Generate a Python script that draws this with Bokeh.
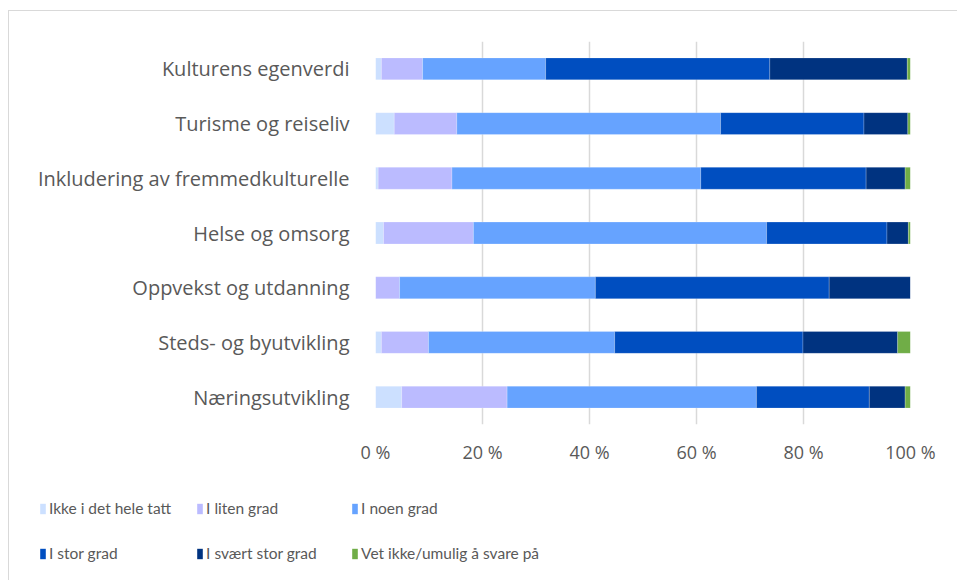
from bokeh.plotting import figure
from bokeh.layouts import column
from bokeh.models import (ColumnDataSource, FactorRange, Range1d, FixedTicker,
                          Legend, LegendItem)
from bokeh.embed import file_html
from bokeh.resources import INLINE

categories = ["Kulturens egenverdi", "Turisme og reiseliv",
              "Inkludering av fremmedkulturelle", "Helse og omsorg",
              "Oppvekst og utdanning", "Steds- og byutvikling", "Næringsutvikling"]
ikke = [1.1, 3.5, 0.5, 1.5, 0.0, 1.1, 4.9]
liten = [7.7, 11.7, 13.8, 16.8, 4.5, 8.8, 19.7]
noen = [23.0, 49.3, 46.5, 54.8, 36.6, 34.8, 46.6]
stor = [41.9, 26.8, 30.9, 22.5, 43.7, 35.2, 21.1]
svaert = [25.7, 8.2, 7.3, 4.0, 15.2, 17.7, 6.7]
vet = [0.6, 0.5, 1.0, 0.4, 0.0, 2.4, 1.0]

series_labels = ["Ikke i det hele tatt", "I liten grad", "I noen grad",
                 "I stor grad", "I svært stor grad", "Vet ikke/umulig å svare på"]
series_keys = ["ikke", "liten", "noen", "stor", "svaert", "vet"]
colors = ["#CCE0FF", "#BBBBFF", "#66A3FF", "#004EC0", "#003380", "#70AD47"]

tick_values = [0, 20, 40, 60, 80, 100]
tick_labels = ["0 %", "20 %", "40 %", "60 %", "80 %", "100 %"]

source = ColumnDataSource(dict(cat=categories, ikke=ikke, liten=liten, noen=noen,
                               stor=stor, svaert=svaert, vet=vet))

# ---- main chart ----
p = figure(width=949, height=460, output_backend="svg", toolbar_location=None,
           y_range=FactorRange(*reversed(categories)), x_range=Range1d(0, 100),
           min_border_left=366, min_border_right=48, min_border_top=30,
           min_border_bottom=47)
p.frame_align = False
p.outline_line_color = None
p.background_fill_color = "white"
p.border_fill_color = "white"

p.hbar_stack(series_keys, y="cat", height=0.4, color=colors,
             line_color="white", line_width=0.6, line_alpha=0.35, source=source)

p.xaxis.ticker = FixedTicker(ticks=tick_values)
p.xaxis.major_label_overrides = {v: l for v, l in zip(tick_values, tick_labels)}
p.xaxis.axis_line_color = None
p.xaxis.major_tick_line_color = None
p.xaxis.minor_tick_line_color = None
p.xaxis.major_label_standoff = 9
p.xaxis.major_label_text_font = "Open Sans"
p.xaxis.major_label_text_font_size = "18px"
p.xaxis.major_label_text_color = "#595959"

p.yaxis.axis_line_color = None
p.yaxis.major_tick_line_color = None
p.yaxis.minor_tick_line_color = None
p.yaxis.major_label_standoff = 20
p.yaxis.major_label_text_font = "Open Sans"
p.yaxis.major_label_text_font_size = "20px"
p.yaxis.major_label_text_color = "#595959"

p.ygrid.grid_line_color = None
p.xgrid.grid_line_color = "#D9D9D9"
p.xgrid.grid_line_width = 1.5
p.y_range.range_padding = 0
p.y_range.factor_padding = 0

# ---- legend strip (legend-only helper renderers, zero-length bars) ----
legend_key = ["legend"]
legend_src = ColumnDataSource(dict(cat=legend_key, **{k: [0.0] for k in series_keys}))
lg = figure(width=949, height=110, output_backend="svg", toolbar_location=None,
            y_range=FactorRange(*legend_key), x_range=Range1d(0, 100),
            x_axis_type=None, y_axis_type=None,
            min_border_left=0, min_border_right=0, min_border_top=0, min_border_bottom=0)
lg.frame_align = False
lg.outline_line_color = None
lg.xgrid.grid_line_color = None
lg.ygrid.grid_line_color = None
lg_renderers = lg.hbar_stack(series_keys, y="cat", height=0.4, color=colors,
                             line_color=None, source=legend_src)

items = [LegendItem(label=l, renderers=[r]) for l, r in zip(series_labels, lg_renderers)]
legend = Legend(items=items, ncols=3, orientation="horizontal",
                location=(30, 18), padding=0, margin=0, spacing=25,
                glyph_width=7, glyph_height=13, label_standoff=3,
                label_width=120, label_height=20,
                label_text_font="Lato",
                label_text_font_size="15.5px", label_text_color="#595959",
                border_line_color=None, background_fill_alpha=0)
lg.add_layout(legend, "center")

layout = column(p, lg, spacing=0)
layout.margin = (10, 0, 0, 8)
layout.styles = {"border-left": "1px solid #D9D9D9", "border-top": "1px solid #D9D9D9",
                 "box-sizing": "border-box"}

open("out.html", "w").write(file_html(layout, INLINE))
